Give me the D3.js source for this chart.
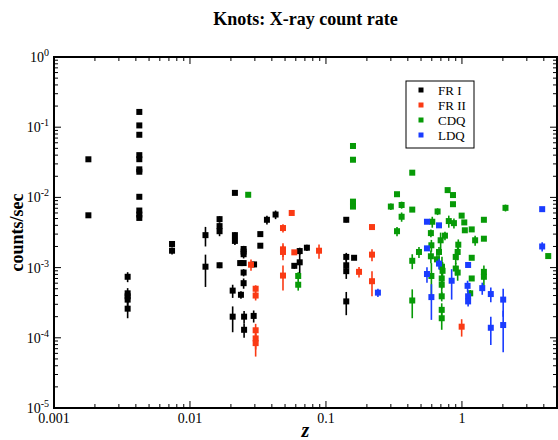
<!DOCTYPE html>
<html>
<head>
<meta charset="utf-8">
<script src="https://cdn.jsdelivr.net/npm/d3@7"></script>
<style>
  body { margin: 0; background: #fff; }
  svg { display: block; }
</style>
</head>
<body>
<svg id="chart" width="558" height="440"></svg>
<script>
// Series: redshift z, count rate (counts/sec), error half-width
var fr1Z    = [0.00179, 0.00179, 0.00424, 0.00424, 0.00424, 0.00424, 0.00424, 0.00424, 0.00424, 0.00424,
               0.00424, 0.00424, 0.00424, 0.00738, 0.00738, 0.00348, 0.00348, 0.00348, 0.00348, 0.00348,
               0.0214, 0.0426, 0.0368, 0.0165, 0.0165, 0.0165, 0.0214, 0.0214, 0.0329, 0.0329,
               0.0130, 0.0248, 0.0248, 0.0248, 0.0724, 0.0641, 0.0641, 0.0585, 0.0130, 0.0165,
               0.0234, 0.0248, 0.0296, 0.0248, 0.0248, 0.0206, 0.0237, 0.0206, 0.0250, 0.0250,
               0.0294, 0.141, 0.141, 0.141, 0.141, 0.161, 0.141];
var fr1Rate = [0.0349, 0.00556, 0.165, 0.106, 0.078, 0.040, 0.035, 0.0251, 0.0232, 0.0102,
               0.0065, 0.0057, 0.0051, 0.00217, 0.00174, 0.00074, 0.00043, 0.00039, 0.00035, 0.00026,
               0.0116, 0.0057, 0.0048, 0.0049, 0.0039, 0.0033, 0.0029, 0.0024, 0.0030, 0.00205,
               0.0029, 0.00184, 0.00169, 0.00155, 0.00192, 0.00172, 0.00119, 0.00106, 0.00103, 0.00108,
               0.00116, 0.00116, 0.00111, 0.00085, 0.00060, 0.00047, 0.00041, 0.00020, 0.00020, 0.00013,
               0.000205, 0.0048, 0.00142, 0.00108, 0.00089, 0.00138, 0.00033];
var fr1Err  = [0, 0, 0, 0, 0, 0, 0, 0, 0, 0,
               0, 0, 0, 0.0002, 0.0002, 0.00012, 0.00008, 0.00008, 0.00007, 0.00007,
               0, 0.0008, 0.0007, 0.0005, 0.0005, 0.0005, 0.0003, 0.0003, 0, 0,
               0.0009, 0.0002, 0.0002, 0.0002, 0.0002, 0.0002, 0.0004, 0.0001, 0.0005, 0.0001,
               0.0001, 0.0001, 0.0001, 0.0001, 0.0001, 0.0001, 0.00005, 0.00008, 0.00004, 0.00003,
               0.00004, 0.0004, 0.0002, 0.0002, 0.0002, 0.0001, 0.00012];

var fr2Z    = [0.056, 0.0483, 0.0483, 0.0483, 0.0585, 0.0889, 0.0281, 0.0483, 0.0304, 0.0304,
               0.0304, 0.0304, 0.0304, 0.218, 0.175, 0.218, 0.218, 0.995];
var fr2Rate = [0.0060, 0.00366, 0.00182, 0.00167, 0.00165, 0.00174, 0.0011, 0.00077, 0.00050, 0.00040,
               0.000128, 0.000098, 0.000084, 0.00378, 0.00087, 0.00153, 0.00064, 0.000144];
var fr2Err  = [0, 0.0005, 0.0004, 0.0004, 0.0001, 0.0004, 0.0002, 0.0003, 0.00006, 0.00006,
               0.00003, 0.00003, 0.00003, 0, 0.00015, 0.0003, 0.00025, 0.00004];

var cdqZ    = [0.0268, 0.0625, 0.0625, 0.158, 0.158, 0.158, 0.158, 0.333, 0.300, 0.333,
               0.431, 0.360, 0.431, 0.360, 0.785, 0.859, 0.859, 2.09, 0.662, 0.995,
               0.605, 0.800, 0.873, 1.04, 1.45, 1.05, 1.18, 0.591, 0.697, 0.750,
               1.25, 1.45, 0.596, 0.94, 0.483, 0.678, 0.93, 0.591, 0.90, 4.31,
               1.18, 0.431, 0.655, 0.713, 0.90, 0.72, 0.596, 0.71, 0.93, 1.45,
               1.45, 1.18, 0.71, 0.431, 0.71, 0.71, 0.71, 1.15];
var cdqRate = [0.0109, 0.00076, 0.00057, 0.054, 0.0344, 0.0087, 0.0074, 0.0111, 0.0074, 0.0033,
               0.0225, 0.0078, 0.0067, 0.0053, 0.0127, 0.0108, 0.0080, 0.0071, 0.0063, 0.0055,
               0.0045, 0.0046, 0.0043, 0.0044, 0.0048, 0.0034, 0.0035, 0.0031, 0.00245, 0.00285,
               0.00245, 0.00258, 0.00208, 0.00212, 0.00167, 0.00167, 0.00167, 0.00145, 0.00142, 0.00146,
               0.00138, 0.00125, 0.00131, 0.00103, 0.00097, 0.00090, 0.00076, 0.00070, 0.00085, 0.00087,
               0.00074, 0.00070, 0.00057, 0.00034, 0.00039, 0.00025, 0.00019, 0.00043];
var cdqErr  = [0, 0.0001, 0.0001, 0, 0, 0, 0, 0, 0.0008, 0.0005,
               0, 0.0009, 0, 0.0008, 0, 0, 0, 0.0008, 0.0007, 0,
               0.0008, 0.0009, 0.0007, 0, 0, 0, 0, 0.0004, 0.0007, 0.0004,
               0.0004, 0, 0.0004, 0.0004, 0.0003, 0.0003, 0.0004, 0.0003, 0.0003, 0,
               0, 0.0003, 0.0002, 0.0004, 0.0002, 0.0003, 0.0004, 0.0002, 0.0002, 0.0002,
               0.0002, 0, 0.0002, 0.00015, 0.00006, 0.00006, 0.00006, 0.00005];

var ldqZ    = [0.241, 3.89, 3.89, 0.553, 0.678, 0.553, 0.678, 1.11, 0.553, 0.84,
               1.10, 1.41, 0.596, 1.11, 1.11, 1.63, 2.01, 1.63, 2.01];
var ldqRate = [0.00044, 0.0068, 0.0020, 0.0045, 0.0040, 0.00188, 0.00114, 0.00109, 0.00081, 0.00065,
               0.00055, 0.00051, 0.00038, 0.00039, 0.00033, 0.00042, 0.00035, 0.000139, 0.000152];
var ldqErr  = [0.00006, 0, 0.0003, 0, 0, 0, 0.0002, 0, 0.0002, 0.0003,
               0.0001, 0.0001, 0.0002, 0.00008, 0.00005, 0.0001, 0.00015, 0.00006, 0.00009];

var seriesNames  = ["FR I", "FR II", "CDQ", "LDQ"];
var seriesColors = ["#000000", "#fa3a14", "#079a07", "#1a3cff"];
var xTickLabels  = ["0.001", "0.01", "0.1", "1"];
var yTickExps    = ["0", "-1", "-2", "-3", "-4", "-5"];

function zip(zs, rates, errs) {
  return zs.map(function(z, i) { return {z: z, rate: rates[i], err: errs[i]}; });
}
var allSeries = [
  zip(fr1Z, fr1Rate, fr1Err),
  zip(fr2Z, fr2Rate, fr2Err),
  zip(cdqZ, cdqRate, cdqErr),
  zip(ldqZ, ldqRate, ldqErr)
];

var svg = d3.select("#chart"),
  margin = {top: 57, right: 1, bottom: 32, left: 54},
  width = +svg.attr("width") - margin.left - margin.right,
  height = +svg.attr("height") - margin.top - margin.bottom;

var x = d3.scaleLog().domain([0.001, 5]).range([0, width]);
var y = d3.scaleLog().domain([1e-5, 1]).range([height, 0]);

var serif = "Liberation Serif, Times New Roman, serif";
var g = svg.append("g")
  .attr("transform", "translate(" + margin.left + "," + margin.top + ")");

function isMajor(v) {
  var l = Math.log10(v);
  return Math.abs(l - Math.round(l)) < 1e-9;
}

// Ticks on all four sides, pointing inward
var xt = x.ticks();
var yt = y.ticks();
g.selectAll(".xtb").data(xt).enter().append("line")
  .attr("x1", function(d) { return x(d); }).attr("x2", function(d) { return x(d); })
  .attr("y1", height).attr("y2", function(d) { return height - (isMajor(d) ? 7 : 4); })
  .attr("stroke", "#000").attr("stroke-width", 1);
g.selectAll(".xtt").data(xt).enter().append("line")
  .attr("x1", function(d) { return x(d); }).attr("x2", function(d) { return x(d); })
  .attr("y1", 0).attr("y2", function(d) { return isMajor(d) ? 7 : 4; })
  .attr("stroke", "#000").attr("stroke-width", 1);
g.selectAll(".ytl").data(yt).enter().append("line")
  .attr("y1", function(d) { return y(d); }).attr("y2", function(d) { return y(d); })
  .attr("x1", 0).attr("x2", function(d) { return isMajor(d) ? 7 : 4; })
  .attr("stroke", "#000").attr("stroke-width", 1);
g.selectAll(".ytr").data(yt).enter().append("line")
  .attr("y1", function(d) { return y(d); }).attr("y2", function(d) { return y(d); })
  .attr("x1", width).attr("x2", function(d) { return width - (isMajor(d) ? 7 : 4); })
  .attr("stroke", "#000").attr("stroke-width", 1);

// Frame
g.append("rect")
  .attr("x", 0).attr("y", 0).attr("width", width).attr("height", height)
  .attr("fill", "none").attr("stroke", "#000").attr("stroke-width", 2);

// Tick labels
xTickLabels.forEach(function(t) {
  g.append("text")
    .attr("x", x(+t)).attr("y", height + 15)
    .attr("text-anchor", "middle")
    .attr("font-family", serif).attr("font-size", 14)
    .text(t);
});
yTickExps.forEach(function(e) {
  var t = g.append("text")
    .attr("x", -5).attr("y", y(Math.pow(10, +e)) + 5)
    .attr("text-anchor", "end")
    .attr("font-family", serif).attr("font-size", 14);
  t.append("tspan").text("10");
  t.append("tspan").attr("font-size", 10).attr("dy", -6).text(e);
});

// Error bars and markers
allSeries.forEach(function(s, i) {
  var col = seriesColors[i];
  g.selectAll(".err" + i).data(s.filter(function(d) { return d.err > 0; })).enter()
    .append("line")
    .attr("x1", function(d) { return x(d.z); }).attr("x2", function(d) { return x(d.z); })
    .attr("y1", function(d) { return y(d.rate + d.err); })
    .attr("y2", function(d) { return y(Math.max(d.rate - d.err, 1e-6)); })
    .attr("stroke", col).attr("stroke-width", 1.6);
  g.selectAll(".pt" + i).data(s).enter()
    .append("rect")
    .attr("x", function(d) { return x(d.z) - 3; })
    .attr("y", function(d) { return y(d.rate) - 3; })
    .attr("width", 6).attr("height", 6)
    .attr("fill", col);
});

// Legend
var lg = svg.append("g").attr("transform", "translate(406,81)");
lg.append("rect").attr("width", 68).attr("height", 67)
  .attr("fill", "#fff").attr("stroke", "#000").attr("stroke-width", 1);
seriesNames.forEach(function(n, i) {
  var ly = 9 + i * 15;
  lg.append("rect").attr("x", 12.5).attr("y", ly - 2.5).attr("width", 5).attr("height", 5)
    .attr("fill", seriesColors[i]);
  lg.append("text").attr("x", 32).attr("y", ly + 4.5)
    .attr("font-family", serif).attr("font-size", 13).text(n);
});

// Title and axis labels
svg.append("text")
  .attr("x", margin.left + width / 2).attr("y", 25)
  .attr("text-anchor", "middle")
  .attr("font-family", serif).attr("font-size", 18).attr("font-weight", "bold")
  .text("Knots: X-ray count rate");
svg.append("text")
  .attr("transform", "translate(23," + (margin.top + height / 2) + ") rotate(-90)")
  .attr("text-anchor", "middle")
  .attr("font-family", serif).attr("font-size", 18).attr("font-weight", "bold")
  .text("counts/sec");
svg.append("text")
  .attr("x", margin.left + width / 2).attr("y", 437)
  .attr("text-anchor", "middle")
  .attr("font-family", serif).attr("font-size", 20).attr("font-weight", "bold")
  .attr("font-style", "italic")
  .text("z");
</script>
</body>
</html>
